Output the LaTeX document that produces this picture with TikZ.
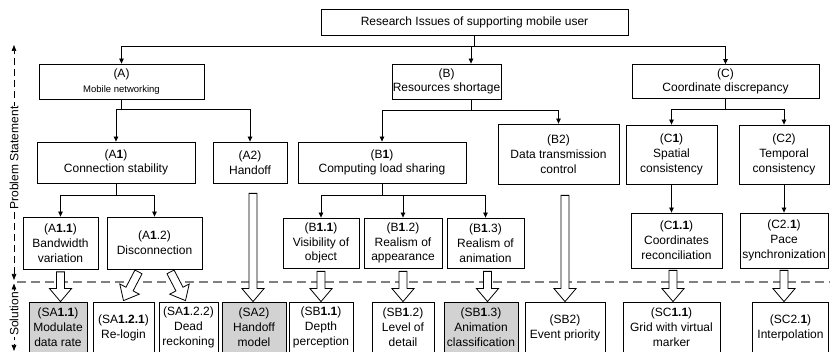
\documentclass[tikz,border=0pt]{standalone}
\usepackage{fontspec}
\setmainfont{Liberation Sans}
\usetikzlibrary{arrows.meta,calc}
\newcommand\blkarrow[2]{%
  \path #1 coordinate (ba-s) #2 coordinate (ba-t);
  \path ($(ba-t)!13pt!(ba-s)$) coordinate (ba-h);
  \draw[blk] ($(ba-s)!4pt!90:(ba-t)$) -- ($(ba-h)!4pt!90:(ba-t)$) -- ($(ba-h)!11pt!90:(ba-t)$)
    -- (ba-t) -- ($(ba-h)!11pt!-90:(ba-t)$) -- ($(ba-h)!4pt!-90:(ba-t)$) -- ($(ba-s)!4pt!-90:(ba-t)$) -- cycle;
}
\begin{document}
\begin{tikzpicture}[x=1pt,y=-1pt,
  box/.style={draw=black,line width=0.8pt,fill=white,align=center,inner sep=0.5pt,font=\fontsize{12}{14.8}\selectfont},
  solw/.style={box,minimum height=51pt},
  solg/.style={box,fill=gray!35,minimum height=51pt},
  conn/.style={line width=0.8pt},
  arr/.style={conn,-{Triangle[length=5pt,width=4.5pt]}},
  blk/.style={draw=black,line width=0.8pt,fill=white,line join=miter},
  axis/.style={line width=0.7pt,dash pattern=on 7pt off 4pt,{Triangle[length=6pt,width=4.5pt]}-{Triangle[length=6pt,width=4.5pt]}},
  axlabel/.style={fill=white,inner sep=1pt,rotate=90,font=\fontsize{12}{14}\selectfont},
  sep/.style={draw=black!50,line width=1.6pt,dash pattern=on 9pt off 5pt}
]
\useasboundingbox (0,0) rectangle (830,352);
\clip (0,0) rectangle (830,352);

% separator and axis
\coordinate (sepL) at (17,282);
\coordinate (sepR) at (830,282);
\draw[sep] (sepL) -- (sepR);
\coordinate (axT) at (14,45);
\coordinate (axM1) at (14,280);
\coordinate (axM2) at (14,283.5);
\coordinate (axB) at (14,351);
\draw[axis] (axM1) -- (axT);
\draw[axis] (axM2) -- (axB);
\node[axlabel] (lblP) at (14,158) {Problem Statement};
\node[axlabel] (lblS) at (14,314) {Solution};

% level 0/1
\node[box,minimum width=307pt,minimum height=26pt] (root) at (474.5,22) {Research Issues of supporting mobile user};
\node[box,minimum width=165pt,minimum height=35pt] (A) at (121.5,81.5) {(A)\\{\fontsize{9.5}{11}\selectfont Mobile networking}};
\node[box,minimum width=109pt,minimum height=35pt] (B) at (446.5,81.5) {(B)\\Resources shortage};
\node[box,minimum width=187pt,minimum height=34pt] (C) at (725.5,81.5) {(C)\\Coordinate discrepancy};

% level 2
\node[box,minimum width=158pt,minimum height=41pt] (A1) at (116,162.5) {(A\textbf{1})\\Connection stability};
\node[box,minimum width=74pt,minimum height=41pt] (A2) at (250,162.5) {(A2)\\Handoff};
\node[box,minimum width=168pt,minimum height=41pt] (B1) at (382,162.5) {(B\textbf{1})\\Computing load sharing};
\node[box,minimum width=121pt,minimum height=60pt] (B2) at (558.5,154) {(B2)\\Data transmission\\control};
\node[box,minimum width=91pt,minimum height=59pt] (C1) at (671.5,154.5) {(C\textbf{1})\\Spatial\\consistency};
\node[box,minimum width=90pt,minimum height=59pt] (C2) at (784,154.5) {(C2)\\Temporal\\consistency};

% level 3
\node[box,minimum width=75pt,minimum height=52pt] (A11) at (60.5,243) {(A\textbf{1.1})\\Bandwidth\\variation};
\node[box,minimum width=95pt,minimum height=52pt] (A12) at (154.5,243) {(A\textbf{1}.2)\\Disconnection};
\node[box,minimum width=76pt,minimum height=50pt] (B11) at (321,243) {(B\textbf{1.1})\\Visibility of\\object};
\node[box,minimum width=78pt,minimum height=50pt] (B12) at (403,243) {(B\textbf{1}.2)\\Realism of\\appearance};
\node[box,minimum width=77pt,minimum height=50pt] (B13) at (485.5,243) {(B\textbf{1}.3)\\Realism of\\animation};
\node[box,minimum width=91pt,minimum height=55pt] (C11) at (676.5,240.5) {(C\textbf{1.1})\\Coordinates\\reconciliation};
\node[box,minimum width=88pt,minimum height=55pt] (C21) at (784,240.5) {(C2.\textbf{1})\\Pace\\synchronization};

% solutions
\node[solg,minimum width=58pt] (SA11) at (58,327.5) {(SA\textbf{1.1})\\Modulate\\data rate};
\node[solw,minimum width=61pt] (SA121) at (123.5,327.5) {(SA\textbf{1.2.1})\\Re-login};
\node[solw,minimum width=59pt] (SA122) at (188.5,327.5) {(SA\textbf{1}.2.2)\\Dead\\reckoning};
\node[solg,minimum width=64pt] (SA2) at (254,327.5) {(SA2)\\Handoff\\model};
\node[solw,minimum width=64pt] (SB11) at (321,327.5) {(SB\textbf{1.1})\\Depth\\perception};
\node[solw,minimum width=62pt] (SB12) at (403,327.5) {(SB\textbf{1}.2)\\Level of\\detail};
\node[solg,minimum width=74pt] (SB13) at (481,327.5) {(SB\textbf{1}.3)\\Animation\\classification};
\node[solw,minimum width=80pt] (SB2) at (565,327.5) {(SB2)\\Event priority};
\node[solw,minimum width=97pt] (SC11) at (671.5,327.5) {(SC\textbf{1.1})\\Grid with virtual\\marker};
\node[solw,minimum width=76pt] (SC21) at (790.5,327.5) {(SC2.\textbf{1})\\Interpolation};

% tree connectors
\coordinate (j0) at (0,46);
\coordinate (jA) at (0,109);
\coordinate (jB) at (471,110);
\coordinate (jC) at (0,109);
\coordinate (jA1) at (0,195);
\coordinate (jB1) at (0,195);

\draw[conn] (root.south) -- (root.south |- j0);
\draw[conn] (A.north |- j0) -- (C.north |- j0);
\draw[arr] (A.north |- j0) -- (A.north);
\draw[arr] (jB |- j0) -- (jB |- B.north);
\draw[arr] (C.north |- j0) -- (C.north);

\draw[conn] (A.south) -- (A.south |- jA);
\draw[conn] (A1.north |- jA) -- (A2.north |- jA);
\draw[arr] (A1.north |- jA) -- (A1.north);
\draw[arr] (A2.north |- jA) -- (A2.north);

\draw[conn] (jB |- B.south) -- (jB);
\draw[conn] (B1.north |- jB) -- (B2.north |- jB);
\draw[arr] (B1.north |- jB) -- (B1.north);
\draw[arr] (B2.north |- jB) -- (B2.north);

\draw[conn] (C.south) -- (C.south |- jC);
\draw[conn] (C1.north |- jC) -- (C2.north |- jC);
\draw[arr] (C1.north |- jC) -- (C1.north);
\draw[arr] (C2.north |- jC) -- (C2.north);

\draw[conn] (A1.south) -- (A1.south |- jA1);
\draw[conn] (A11.north |- jA1) -- (A12.north |- jA1);
\draw[arr] (A11.north |- jA1) -- (A11.north);
\draw[arr] (A12.north |- jA1) -- (A12.north);

\draw[conn] (B1.south) -- (B1.south |- jB1);
\draw[conn] (B11.north |- jB1) -- (B13.north |- jB1);
\draw[arr] (B11.north |- jB1) -- (B11.north);
\draw[arr] (B12.north |- jB1) -- (B12.north);
\draw[arr] (B13.north |- jB1) -- (B13.north);

\draw[arr] (C1.south) -- (C1.south |- C11.north);
\draw[arr] (C2.south) -- (C2.south |- C21.north);

% block arrows
\blkarrow{($(A11.south)+(0,2.5)$)}{(A11.south |- SA11.north)}
\blkarrow{($(A12.south)+(-16,2.5)$)}{($(SA121.north)+(0,-1)$)}
\blkarrow{($(A12.south)+(16,2.5)$)}{($(SA122.north)+(-3,-1)$)}
\blkarrow{($(SA2.north |- A2.south)+(-1,10)$)}{($(SA2.north)+(-1,0)$)}
\blkarrow{($(SB2.north |- B2.south)+(0,11)$)}{(SB2.north)}
\blkarrow{($(B11.south)+(0,3)$)}{(B11.south |- SB11.north)}
\blkarrow{($(B12.south)+(0,3)$)}{(B12.south |- SB12.north)}
\blkarrow{($(B13.south)+(2,3)$)}{($(B13.south |- SB13.north)+(2,0)$)}
\blkarrow{($(SC11.north |- C11.south)+(1.5,2)$)}{($(SC11.north)+(1.5,0)$)}
\blkarrow{($(C21.south)+(0,2)$)}{(C21.south |- SC21.north)}
\end{tikzpicture}
\end{document}
